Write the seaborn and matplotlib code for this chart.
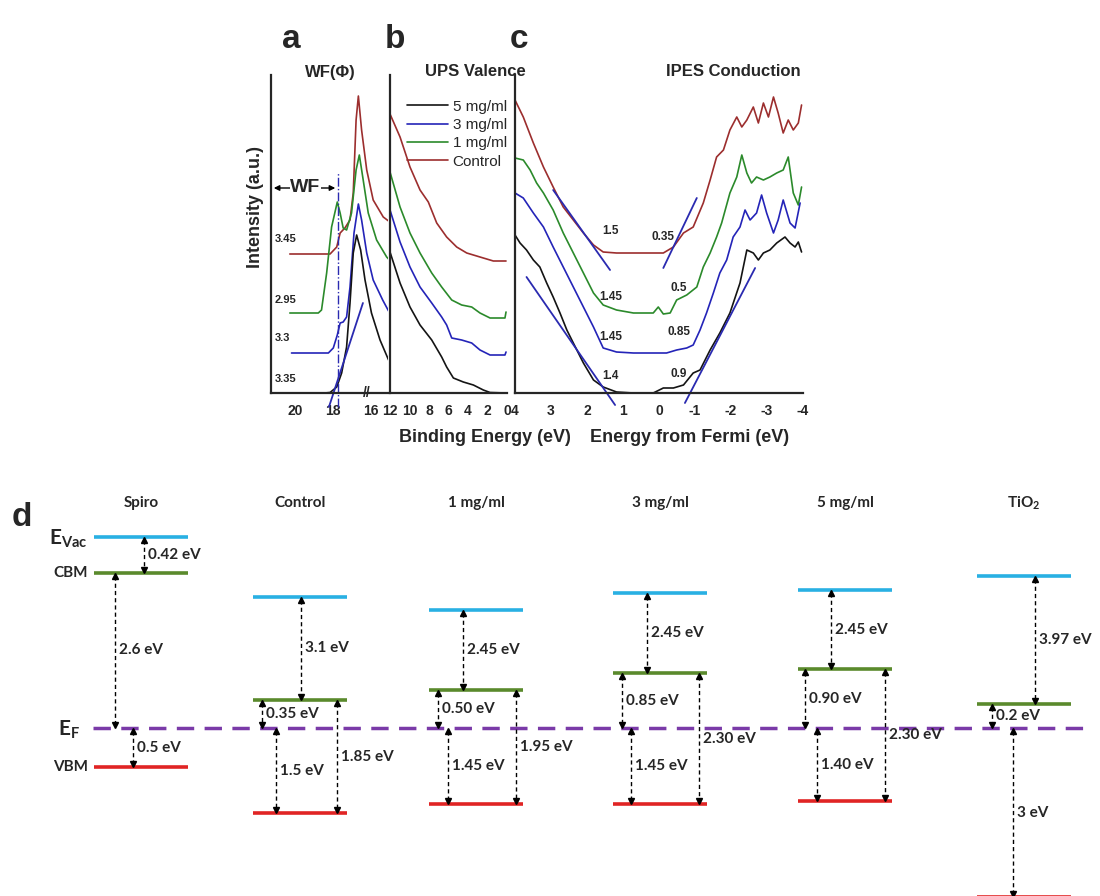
import numpy as np
import pandas as pd
import matplotlib
matplotlib.use("Agg")
import matplotlib.pyplot as plt
from matplotlib.lines import Line2D
import seaborn as sns


# =========================
# DATA
# =========================
SERIES = ["5 mg/ml", "3 mg/ml", "1 mg/ml", "Control"]

# panel a - secondary electron cutoff (binding energy eV, intensity a.u.)
A_CTRL_X = [20.27, 18.15, 17.80, 17.62, 17.37, 17.10, 16.93, 16.78, 16.66, 16.49, 16.22, 15.88, 15.35, 15.07]
A_CTRL_Y = [139, 139, 146, 160, 165, 173, 200, 273, 297, 263, 223, 193, 176, 172]
A_1MG_X = [20.27, 18.77, 18.60, 18.33, 18.07, 17.77, 17.62, 17.46, 17.28, 17.02, 16.78, 16.61, 16.43,
           16.14, 15.70, 15.17, 15.07]
A_1MG_Y = [80, 80, 83, 120, 166, 191, 180, 165, 163, 180, 223, 238, 216, 180, 153, 136, 134]
A_3MG_X = [20.18, 18.24, 17.98, 17.77, 17.62, 17.46, 17.28, 17.10, 16.89, 16.66, 16.49, 16.22, 15.88, 15.38, 15.07]
A_3MG_Y = [40, 40, 45, 58, 70, 71, 76, 106, 160, 189, 173, 140, 113, 93, 82]
A_5MG_X = [18.44, 18.15, 17.80, 17.54, 17.28, 17.10, 16.93, 16.75, 16.54, 16.31, 15.97, 15.52, 15.07]
A_5MG_Y = [0, 0.5, 6, 20, 46, 90, 140, 158, 143, 113, 80, 53, 33]
A_CUTOFF = ["3.35", "3.3", "2.95", "3.45"]
A_CUTOFF_Y = [9, 50, 88, 149]
A_TANGENT_X = [18.21, 16.42]
A_TANGENT_Y = [-14, 90]
A_WF_X = 17.73

# panel b - UPS valence
B_CTRL_X = [12, 10.97, 9.95, 8.92, 8.07, 7.21, 6.19, 5.16, 4.13, 2.77, 1.40, 0.1]
B_CTRL_Y = [279, 256, 226, 203, 191, 170, 156, 146, 140, 136, 132, 132]
B_1MG_X = [12, 10.97, 9.95, 8.92, 7.72, 6.70, 5.67, 4.65, 3.62, 2.77, 1.74, 0.21, 0.1]
B_1MG_Y = [221, 186, 160, 140, 120, 106, 93, 88, 86, 80, 75, 75, 81]
B_3MG_X = [12, 10.97, 9.95, 8.92, 7.72, 6.70, 6.19, 5.67, 4.65, 3.62, 2.77, 1.74, 0.21, 0.1]
B_3MG_Y = [183, 151, 126, 106, 90, 76, 68, 55, 53, 50, 43, 38, 38, 41]
B_5MG_X = [12, 10.97, 9.95, 8.92, 7.72, 6.70, 6.19, 5.50, 4.48, 3.45, 2.43, 1.74, 0.1]
B_5MG_Y = [141, 110, 86, 68, 53, 36, 26, 15, 11, 8, 3, 0.5, 0]

# panel c - UPS valence / IPES conduction near Fermi level
C_CTRL_X = [4.0, 3.77, 3.49, 3.21, 2.94, 2.66, 2.38, 2.10, 1.82, 1.55, 1.18, 0.71, 0.25, -0.12,
            -0.40, -0.68, -0.95, -1.23, -1.42, -1.60, -1.79, -1.97, -2.16, -2.30, -2.44, -2.62,
            -2.76, -2.90, -3.04, -3.18, -3.31, -3.45, -3.59, -3.73, -3.87, -3.96]
C_CTRL_Y = [293, 276, 250, 226, 206, 186, 173, 160, 148, 141, 140, 140, 140, 140,
            146, 160, 166, 190, 213, 236, 243, 263, 276, 266, 273, 286,
            270, 290, 276, 296, 280, 260, 273, 263, 270, 288]
C_1MG_X = [4.0, 3.77, 3.58, 3.40, 3.21, 2.94, 2.66, 2.38, 2.10, 1.82, 1.55, 1.18, 0.71, 0.16,
           0.02, -0.12, -0.31, -0.49, -0.77, -1.05, -1.23, -1.42, -1.60, -1.74, -1.97, -2.16,
           -2.30, -2.44, -2.57, -2.71, -2.90, -3.08, -3.27, -3.45, -3.59, -3.73, -3.87, -3.96]
C_1MG_Y = [235, 233, 223, 210, 200, 183, 160, 140, 120, 100, 88, 83, 80, 80,
           86, 79, 80, 93, 98, 106, 126, 140, 156, 170, 200, 216,
           238, 220, 210, 216, 213, 216, 220, 223, 236, 200, 188, 206]
C_3MG_X = [4.0, 3.77, 3.49, 3.21, 2.94, 2.66, 2.38, 2.10, 1.82, 1.55, 1.18, 0.71, 0.16, -0.21,
           -0.49, -0.77, -0.95, -1.14, -1.32, -1.51, -1.69, -1.88, -2.06, -2.25, -2.39, -2.53,
           -2.71, -2.85, -2.99, -3.18, -3.31, -3.45, -3.64, -3.78, -3.92]
C_3MG_Y = [200, 195, 180, 166, 146, 126, 106, 86, 66, 45, 41, 40, 40, 40,
           43, 45, 48, 63, 80, 100, 120, 133, 156, 166, 183, 173,
           180, 198, 180, 160, 173, 193, 170, 165, 190]
C_5MG_X = [4.0, 3.86, 3.68, 3.49, 3.31, 3.12, 2.94, 2.75, 2.56, 2.38, 2.10, 1.82, 1.55, 1.18,
           0.71, 0.16, -0.12, -0.40, -0.68, -0.95, -1.14, -1.42, -1.69, -1.97, -2.25, -2.44,
           -2.62, -2.76, -2.90, -3.08, -3.27, -3.50, -3.64, -3.78, -3.87, -3.96]
C_5MG_Y = [158, 150, 143, 133, 126, 110, 96, 80, 63, 50, 30, 13, 6, 1,
           0, 0, 5, 5, 8, 20, 23, 43, 60, 80, 110, 143,
           140, 133, 140, 143, 150, 156, 150, 146, 151, 141]

# onset fits (x0, x1, y0, y1)
C_TANGENTS = [(2.94, 1.36, 203, 123), (3.68, 1.22, 116, -12),
              (-0.12, -1.05, 125, 195), (-0.72, -2.67, -10, 125)]
C_VB_ONSET = ["1.4", "1.45", "1.45", "1.5"]
C_CB_ONSET = ["0.9", "0.85", "0.5", "0.35"]
C_VB_LAB_Y = [11, 50, 90, 156]
C_CB_LAB_Y = [13, 55, 99, 150]

# panel d - energy level diagram (schematic heights above E_F, as drawn)
SAMPLES = ["Spiro", "Control", "1 mg/ml", "3 mg/ml", "5 mg/ml", r"TiO$_\mathbf{2}$"]
EVAC_H = [191, 131, 118, 135, 138, 152]
CBM_H = [155, 28, 38, 55, 59, 24]
VBM_H = [-39, -85, -76, -76, -73, -169]
GAP_VAC_CBM = ["0.42 eV", "3.1 eV", "2.45 eV", "2.45 eV", "2.45 eV", "3.97 eV"]
GAP_CBM_EF = ["2.6 eV", "0.35 eV", "0.50 eV", "0.85 eV", "0.90 eV", "0.2 eV"]
GAP_EF_VBM = ["0.5 eV", "1.5 eV", "1.45 eV", "1.45 eV", "1.40 eV", "3 eV"]
GAP_CBM_VBM = [None, "1.85 eV", "1.95 eV", "2.30 eV", "2.30 eV", None]


# =========================
# STYLE
# =========================
sns.set_style("white")
plt.rcParams['font.family'] = ['Liberation Sans', 'DejaVu Sans']
plt.rcParams['mathtext.fontset'] = 'custom'
plt.rcParams['mathtext.rm'] = 'Lato'
plt.rcParams['mathtext.bf'] = 'Lato:bold'

PAL = {"5 mg/ml": "#141414", "3 mg/ml": "#2424b8", "1 mg/ml": "#2b8a2b", "Control": "#9c2e2e"}
FIT = "#2a2ab0"
CYAN, OLIVE, RED, PURPLE = "#29b0e3", "#5a8a2c", "#e02424", "#7a3aa8"
DFONT = ['Lato', 'DejaVu Sans']

W, H = 1100, 896
fig = plt.figure(figsize=(11, 8.96), dpi=100)


def px_axes(x0, y0, x1, y1):
    return fig.add_axes([x0 / W, 1 - y1 / H, (x1 - x0) / W, (y1 - y0) / H])


def long_df(curves):
    frames = [pd.DataFrame({"energy": x, "intensity": y, "sample": k}) for k, (x, y) in curves.items()]
    return pd.concat(frames, ignore_index=True)


ax_a = px_axes(271, 75, 388, 393)
ax_b = px_axes(390, 75, 507, 393)
ax_c = px_axes(515, 75, 803, 393)

df_a = long_df({"Control": (A_CTRL_X, A_CTRL_Y), "1 mg/ml": (A_1MG_X, A_1MG_Y),
                "3 mg/ml": (A_3MG_X, A_3MG_Y), "5 mg/ml": (A_5MG_X, A_5MG_Y)})
df_b = long_df({"Control": (B_CTRL_X, B_CTRL_Y), "1 mg/ml": (B_1MG_X, B_1MG_Y),
                "3 mg/ml": (B_3MG_X, B_3MG_Y), "5 mg/ml": (B_5MG_X, B_5MG_Y)})
df_c = long_df({"Control": (C_CTRL_X, C_CTRL_Y), "1 mg/ml": (C_1MG_X, C_1MG_Y),
                "3 mg/ml": (C_3MG_X, C_3MG_Y), "5 mg/ml": (C_5MG_X, C_5MG_Y)})

for ax, df in ((ax_a, df_a), (ax_b, df_b), (ax_c, df_c)):
    sns.lineplot(data=df, x="energy", y="intensity", hue="sample", palette=PAL,
                 sort=False, estimator=None, legend=False, linewidth=1.2, ax=ax)
    ax.set_ylim(0, 318)
    ax.set_xlabel("")
    ax.set_ylabel("")
    ax.set_yticks([])
    ax.spines[['top', 'right']].set_visible(False)
    ax.spines[['left', 'bottom']].set_linewidth(1.6)
    ax.patch.set_alpha(0)
    ax.tick_params(axis='x', which='major', direction='in', length=4, width=1.2, pad=8)
    ax.tick_params(axis='x', which='minor', direction='in', length=2.5, width=1)

ax_a.set_xlim(21.26, 15.1)
ax_a.set_xticks([20, 18, 16], ["20", "18", "16"], fontweight='bold', fontsize=10)
ax_a.set_xticks([21, 19, 17], minor=True)
ax_a.tick_params(axis='x', which='major', direction='inout', length=6, pad=5)
ax_b.set_xlim(12, 0)
ax_b.set_xticks(range(12, -1, -2), [str(v) for v in range(12, -1, -2)], fontweight='bold', fontsize=10)
ax_b.set_xticks(range(11, 0, -2), minor=True)
ax_c.set_xlim(4, -4)
ax_c.set_xticks(range(4, -5, -1), [str(v) for v in range(4, -5, -1)], fontweight='bold', fontsize=10)
ax_c.set_xticks(np.arange(3.5, -4, -1), minor=True)

# panel a extras
ax_a.plot(A_TANGENT_X, A_TANGENT_Y, color=FIT, lw=1.3, clip_on=False)
ax_a.plot([A_WF_X, A_WF_X], [-14, 221], color=FIT, lw=1, ls='-.', clip_on=False)
ax_a.annotate("", xy=(21.26, 205), xytext=(A_WF_X, 205),
              arrowprops=dict(arrowstyle='<|-|>', lw=1, color='k', mutation_scale=8))
ax_a.text(19.45, 205, "WF", fontsize=14, fontweight='bold', ha='center', va='center',
          bbox=dict(facecolor='white', edgecolor='none', pad=0.3))
for lab, yv in zip(A_CUTOFF, A_CUTOFF_Y):
    ax_a.text(21.05, yv, lab, fontsize=8, fontweight='bold', ha='left', va='bottom')
ax_a.text(16.2, 0, "//", fontsize=10, fontweight='bold', ha='center', va='center')

# panel c extras
for x0, x1, y0, y1 in C_TANGENTS:
    ax_c.plot([x0, x1], [y0, y1], color=FIT, lw=1.3, clip_on=False)
for lab, yv in zip(C_VB_ONSET, C_VB_LAB_Y):
    ax_c.text(1.35, yv, lab, fontsize=8.5, fontweight='bold', ha='center', va='bottom')
for lab, yv in zip(C_CB_ONSET, C_CB_LAB_Y):
    ax_c.text(-0.55 if lab != "0.35" else -0.1, yv, lab, fontsize=8.5, fontweight='bold',
              ha='center', va='bottom')

# legend
handles = [Line2D([], [], color=PAL[s], lw=1.2) for s in SERIES]
fig.legend(handles, SERIES, loc='upper left', bbox_to_anchor=(393 / W, 1 - 86 / H),
           frameon=False, fontsize=11, handlelength=2.7, handletextpad=0.3, labelspacing=0.28)

# texts for top panels
fig.text(255 / W, 1 - 207 / H, "Intensity (a.u.)", rotation=90, fontsize=13, fontweight='bold',
         ha='center', va='center')
fig.text(485 / W, 1 - 437 / H, "Binding Energy (eV)", fontsize=13, fontweight='bold', ha='center', va='center')
fig.text(690 / W, 1 - 437 / H, "Energy from Fermi (eV)", fontsize=13, fontweight='bold', ha='center', va='center')
fig.text(330 / W, 1 - 72 / H, "WF(Φ)", fontsize=12, fontweight='bold', ha='center', va='center')
fig.text(475 / W, 1 - 72 / H, "UPS Valence", fontsize=12, fontweight='bold', ha='center', va='center')
fig.text(733 / W, 1 - 72 / H, "IPES Conduction", fontsize=12, fontweight='bold', ha='center', va='center')
for lab, xp in (("a", 291), ("b", 395), ("c", 519)):
    fig.text(xp / W, 1 - 40 / H, lab, fontsize=24, fontweight='bold', ha='center', va='center')
fig.text(22 / W, 1 - 517 / H, "d", fontsize=24, fontweight='bold', ha='center', va='center')


# =========================
# PANEL d - ENERGY LEVELS
# =========================
ax_d = px_axes(0, 480, 1100, 896)
ax_d.set_xlim(0, 1100)
ax_d.set_ylim(-168, 248)
ax_d.axis('off')

COL_X = [141, 300, 476, 660, 845, 1024]
HALF = 47
VAC_DX = [3, 1, -13, -13, -14, 11]
CE_DX = [-26, -38, -38, -38, -40, -32]
EV_DX = [-8, -24, -28, -29, -28, -11]
CV_DX = [None, 37, 40, 39, 40, None]


def gap_arrow(x, top, bottom, label):
    ax_d.plot([x, x], [top - 3, bottom + 3], color='k', lw=1, dashes=(3, 2.2), clip_on=False)
    ax_d.plot(x, top - 3, marker='^', ms=4, color='k', clip_on=False)
    ax_d.plot(x, bottom + 3, marker='v', ms=4, color='k', clip_on=False)
    ax_d.text(x + 4, (top + bottom) / 2, label, fontsize=11, fontweight='bold', family=DFONT,
              ha='left', va='center')


ax_d.plot([93, 1088], [0, 0], color=PURPLE, lw=2.5, dashes=(5, 3), zorder=1)

for i, cx in enumerate(COL_X):
    ax_d.plot([cx - HALF, cx + HALF], [EVAC_H[i]] * 2, color=CYAN, lw=2.6, solid_capstyle='butt')
    ax_d.plot([cx - HALF, cx + HALF], [CBM_H[i]] * 2, color=OLIVE, lw=2.6, solid_capstyle='butt')
    ax_d.plot([cx - HALF, cx + HALF], [VBM_H[i]] * 2, color=RED, lw=2.6, solid_capstyle='butt', clip_on=False)
    ax_d.text(cx, 225, SAMPLES[i], fontsize=11, fontweight='bold', family=DFONT, ha='center', va='center')
    gap_arrow(cx + VAC_DX[i], EVAC_H[i], CBM_H[i], GAP_VAC_CBM[i])
    gap_arrow(cx + CE_DX[i], CBM_H[i], 0, GAP_CBM_EF[i])
    gap_arrow(cx + EV_DX[i], 0, VBM_H[i], GAP_EF_VBM[i])
    if GAP_CBM_VBM[i]:
        gap_arrow(cx + CV_DX[i], CBM_H[i], VBM_H[i], GAP_CBM_VBM[i])

ax_d.text(88, EVAC_H[0] - 2, r"$\mathbf{E}_{\mathbf{Vac}}$", fontsize=15, ha='right', va='center')
ax_d.text(88, CBM_H[0], "CBM", fontsize=11, fontweight='bold', family=DFONT, ha='right', va='center')
ax_d.text(80, -2, r"$\mathbf{E}_{\mathbf{F}}$", fontsize=15, ha='right', va='center')
ax_d.text(88, VBM_H[0], "VBM", fontsize=11, fontweight='bold', family=DFONT, ha='right', va='center')

plt.savefig("out.png", dpi=100)
